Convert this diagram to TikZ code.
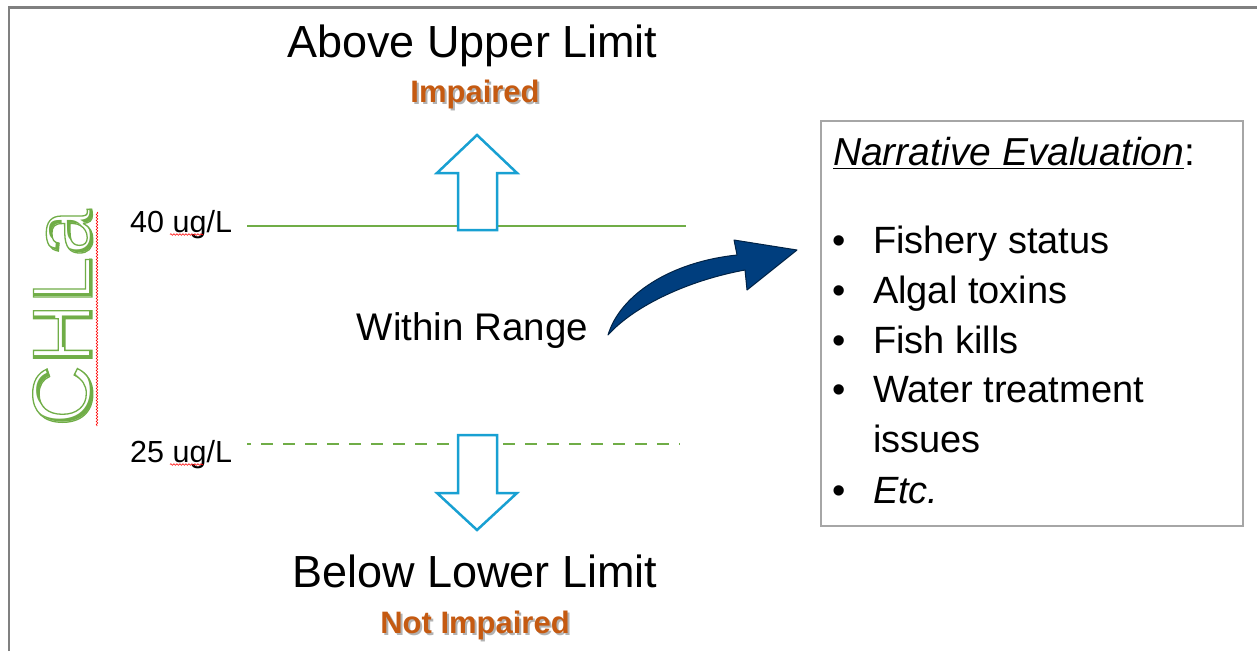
\documentclass[tikz,border=0pt]{standalone}
\usepackage{fontspec}
\setmainfont{Liberation Sans}
\usepackage{tikz}
\usetikzlibrary{decorations.pathmorphing}

\definecolor{limitgreen}{RGB}{112,173,71}
\definecolor{pointblue}{RGB}{24,160,210}
\definecolor{verdictorange}{RGB}{197,90,17}
\definecolor{evalnavy}{RGB}{0,62,126}
\definecolor{framegray}{RGB}{128,128,128}
\definecolor{boxgray}{RGB}{166,166,166}

\newcommand{\pxfont}[1]{\fontsize{#1}{#1}\selectfont}
\newcommand{\outlinetext}[2]{\special{pdf:literal direct #1 w 1 Tr}#2\special{pdf:literal direct 0 Tr}}

\begin{document}
\begin{tikzpicture}[x=1pt, y=-1pt,
    every node/.style={inner sep=0pt, outer sep=0pt},
    heading/.style={anchor=base, font=\pxfont{45}},
    verdict/.style={anchor=base, font=\pxfont{31}\bfseries, text=verdictorange},
    verdictshadow/.style={anchor=base, font=\pxfont{31}\bfseries, text=black!30},
    level/.style={anchor=base east, font=\pxfont{30.5}},
    chla/.style={anchor=base, rotate=90, font=\pxfont{85}},
    limit/.style={limitgreen, line width=2.7pt},
    hollow/.style={draw=pointblue, fill=white, line width=2.5pt},
    spell/.style={red, line width=0.6pt, decorate,
      decoration={snake, amplitude=0.8pt, segment length=3pt}},
    item/.style={anchor=base west, font=\pxfont{38}},
    bulletmark/.style={anchor=base, font=\pxfont{38}}]
  \useasboundingbox (0,0) rectangle (1257,651);
  \draw[framegray, line width=2.5pt] (9,651) -- (9,7.7) -- (1257,7.7);

  % CHLa label on the left
  \node[chla, text=limitgreen] (chlafill) at (92,318) {CHLa};
  \node[chla, text=white] (chlacut) at (89,315) {CHLa};
  \node[chla, text=limitgreen] (chla) at (92,318) {\outlinetext{1.3}{CHLa}};
  \draw[spell] (97,212) -- (97,426);

  % the two limits
  \draw[limit] (247,226) -- (686,226);
  \draw[limit, dash pattern=on 12pt off 10pt, dash phase=8pt] (247,444) -- (680,444);
  \node[level] (upper) at (232,232) {40 ug/L};
  \node[level] (lower) at (232,462) {25 ug/L};
  \draw[spell] (170,234.5) -- (203,234.5);
  \draw[spell] (170,464.5) -- (203,464.5);

  % hollow arrows
  \draw[hollow] (458,230) -- (458,173) -- (437,173) -- (477,135)
    -- (517,173) -- (497,173) -- (497,230) -- cycle;
  \draw[hollow] (458,435) -- (458,493) -- (437,493) -- (477,530)
    -- (517,493) -- (497,493) -- (497,435) -- cycle;

  \node[heading] (above) at (472.5,57) {Above Upper Limit};
  \node[verdictshadow] at (477,104) {Impaired};
  \node[verdict] (impaired) at (475,102) {Impaired};
  \node[anchor=base, font=\pxfont{38.5}] (within) at (472.5,340) {Within Range};
  \node[heading] (below) at (475,587) {Below Lower Limit};
  \node[verdictshadow] at (477,635) {Not Impaired};
  \node[verdict] (notimpaired) at (475,633) {Not Impaired};

  % curved arrow to the box
  \draw[evalnavy!55!black, fill=evalnavy, line width=1pt, line join=round]
    (608,335) .. controls (620,295) and (670,262) .. (737,255)
    -- (734,240) -- (797,250) -- (747,290) -- (745,270)
    .. controls (690,280) and (635,305) .. (608,335) -- cycle;

  % narrative box
  \node[draw=boxgray, line width=1.8pt, anchor=north west,
    minimum width=422pt, minimum height=405pt] (evalbox) at (821,121) {};
  \node[anchor=base west, font=\pxfont{39}\itshape] (title) at (833,165) {Narrative Evaluation};
  \node[anchor=base west, font=\pxfont{39}] (colon) at (title.base east) {:};
  \draw[line width=1.8pt] ([yshift=-3.5pt]title.base west) -- ([yshift=-3.5pt]title.base east);
  \foreach \y/\txt [count=\i] in {253/Fishery status, 303/Algal toxins, 353/Fish kills,
      402/Water treatment, 452/issues, 503/{\itshape Etc.}}
    \node[item] (item\i) at (873,\y) {\txt};
  \foreach \i in {1,2,3,4,6}
    \node[bulletmark] at ([xshift=-34pt]item\i.base west) {\textbullet};
\end{tikzpicture}
\end{document}
